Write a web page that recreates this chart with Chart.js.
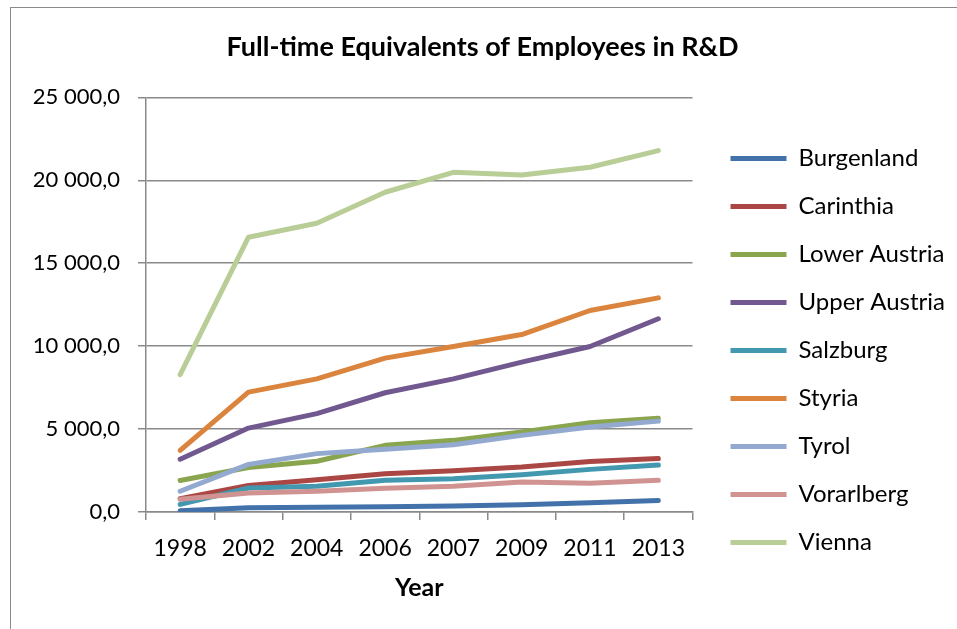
<!DOCTYPE html>
<html>
<head>
<meta charset="utf-8">
<script src="https://cdn.jsdelivr.net/npm/chart.js@4.4.0/dist/chart.umd.min.js"></script>
<style>
    html, body { margin: 0; padding: 0; background: #fff; }
    #wrap { position: relative; width: 957px; height: 629px; overflow: hidden; }
    #frame {
        position: absolute; left: 10px; top: 7px; width: 1000px; height: 700px;
        border: 1px solid #8a8a8a; pointer-events: none;
    }
</style>
</head>
<body>
<div id="wrap">
    <canvas id="chart" width="957" height="629"></canvas>
    <div id="frame"></div>
</div>
<script>
const years = ["1998", "2002", "2004", "2006", "2007", "2009", "2011", "2013"];

const burgenland = [70, 250, 290, 320, 360, 440, 560, 690];
const carinthia = [800, 1600, 1950, 2310, 2490, 2710, 3050, 3220];
const lowerAustria = [1900, 2680, 3060, 4020, 4320, 4820, 5380, 5660];
const upperAustria = [3180, 5060, 5930, 7190, 8030, 9040, 9980, 11650];
const salzburg = [460, 1450, 1550, 1910, 2010, 2250, 2570, 2830];
const styria = [3720, 7230, 8030, 9280, 9980, 10700, 12150, 12910];
const tyrol = [1250, 2870, 3520, 3780, 4050, 4620, 5120, 5480];
const vorarlberg = [770, 1150, 1250, 1430, 1550, 1810, 1730, 1910];
const vienna = [8280, 16570, 17410, 19280, 20480, 20320, 20790, 21790];

const regionNames = ["Burgenland", "Carinthia", "Lower Austria", "Upper Austria",
    "Salzburg", "Styria", "Tyrol", "Vorarlberg", "Vienna"];
const regionValues = [burgenland, carinthia, lowerAustria, upperAustria,
    salzburg, styria, tyrol, vorarlberg, vienna];
const regionColors = ["#4372aa", "#aa4643", "#89a54e", "#71588f", "#4198af",
    "#db843d", "#93a9cf", "#d19392", "#b9cd96"];

const yTicks = [0, 5000, 10000, 15000, 20000, 25000];

const FONT = "Lato, 'Noto Sans', sans-serif";
const GRID = "#8a8a8a";

const formatTick = (value) => {
    const whole = Math.round(value).toString().replace(/\B(?=(\d{3})+(?!\d))/g, " ");
    return whole + ",0";
};

const datasets = regionNames.map((name, idx) => ({
    label: name,
    data: regionValues[idx],
    borderColor: regionColors[idx],
    backgroundColor: regionColors[idx],
    borderWidth: 5,
    borderJoinStyle: "round",
    borderCapStyle: "round",
    pointRadius: 0,
    pointHoverRadius: 0,
    tension: 0,
    fill: false,
    // later series sit on top, like the original
    order: regionNames.length - idx,
    yAxisID: "y",
}));

const ctx = document.getElementById("chart").getContext("2d");
new Chart(ctx, {
    type: "line",
    data: { labels: years, datasets: datasets },
    options: {
        responsive: false,
        animation: false,
        events: [],
        layout: { padding: { left: 10, right: 2, top: 0, bottom: 26 } },
        plugins: {
            tooltip: { enabled: false },
            title: {
                display: true,
                text: "Full-time Equivalents of Employees in R&D",
                color: "#000",
                font: { family: FONT, size: 27, weight: "bold" },
                padding: { top: 31, bottom: 34 },
            },
            legend: {
                position: "right",
                align: "center",
                maxWidth: 300,
                title: {
                    display: true,
                    text: " ",
                    font: { size: 10 },
                    padding: { top: 86, bottom: 0 },
                },
                labels: {
                    usePointStyle: true,
                    pointStyle: "line",
                    pointStyleWidth: 56,
                    padding: 24,
                    color: "#000",
                    font: { family: FONT, size: 24 },
                    sort: (a, b) => a.datasetIndex - b.datasetIndex,
                },
            },
        },
        scales: {
            x: {
                type: "category",
                offset: true,
                grid: {
                    display: true,
                    offset: true,
                    drawOnChartArea: false,
                    drawTicks: true,
                    tickLength: 8,
                    color: GRID,
                    lineWidth: 1.5,
                },
                border: { display: true, color: GRID, width: 1.5 },
                ticks: {
                    color: "#000",
                    padding: 15,
                    font: { family: FONT, size: 23 },
                    maxRotation: 0,
                },
                title: {
                    display: true,
                    text: "Year",
                    color: "#000",
                    font: { family: FONT, size: 25, weight: "bold" },
                    padding: { top: 0, bottom: 0 },
                },
                afterFit: (scale) => { scale.height = 91; },
            },
            y: {
                type: "linear",
                min: 0,
                max: 25000,
                afterBuildTicks: (scale) => {
                    scale.ticks = yTicks.map((v) => ({ value: v }));
                },
                grid: {
                    color: GRID,
                    lineWidth: 1.5,
                    tickLength: 8,
                    drawTicks: true,
                },
                border: { display: true, color: GRID, width: 1.5 },
                ticks: {
                    color: "#000",
                    padding: 18,
                    font: { family: FONT, size: 22 },
                    callback: (value) => formatTick(value),
                },
                afterFit: (scale) => { scale.width = 136; },
            },
            gap: {
                type: "linear",
                position: "right",
                display: true,
                grid: { display: false },
                border: { display: false },
                ticks: { display: false },
                afterFit: (scale) => { scale.width = 14; },
            },
        },
    },
});
</script>
</body>
</html>
